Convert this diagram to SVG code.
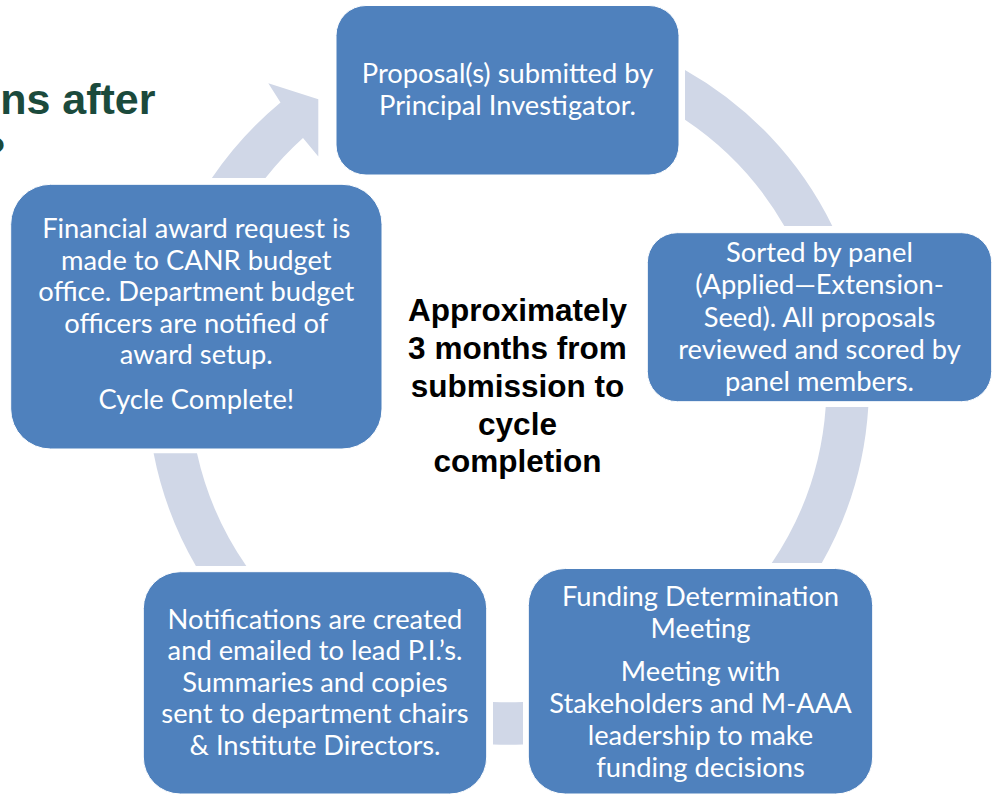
<svg xmlns="http://www.w3.org/2000/svg" width="993" height="795" viewBox="0 0 993 795">
<style>
.box{fill:#4F81BD;stroke:#ffffff;stroke-width:1}
.ring{fill:#D0D7E7}
.t{font-family:Lato,"Open Sans","Liberation Sans",sans-serif;font-size:27.3px;fill:#ffffff;text-anchor:middle}
.c{font-family:"Liberation Sans",Arial,sans-serif;font-weight:bold;font-size:31.5px;fill:#000000;text-anchor:middle}
.title{font-family:"Liberation Sans",Arial,sans-serif;font-weight:bold;font-size:43px;fill:#1B4A3C}
</style>
<rect width="993" height="795" fill="#ffffff"/>
<g id="title">
<text class="title" x="155.5" y="114" text-anchor="end">ns after</text>
<text class="title" x="6" y="166" text-anchor="end">?</text>
</g>
<g id="connectors">
<path class="ring" d="M685,69.9 A361,361 0 0 1 832.3,226 L784.3,226 A318.5,318.5 0 0 0 685,119.7 Z"/>
<path class="ring" d="M868.3,407 A361,361 0 0 1 821.8,563 L771.8,563 A318.5,318.5 0 0 0 825.7,407 Z"/>
<path class="ring" d="M493,744.5 A361,361 0 0 0 523,744.5 L523,702 A318.5,318.5 0 0 1 493,702 Z"/>
<path class="ring" d="M153.6,453.3 A361,361 0 0 0 195.9,566 L246.3,566 A318.5,318.5 0 0 1 197,453.3 Z"/>
<path class="ring" d="M211.9,178 A361,361 0 0 1 280.5,102.5 L268.3,83.3 L318.3,99.3 L318.3,156.5 L303,138 A318.5,318.5 0 0 0 265.5,178 Z"/>
</g>
<g id="center-label">
<text class="c" x="517.5" y="321">Approximately</text>
<text class="c" x="517.5" y="359">3 months from</text>
<text class="c" x="517.5" y="397">submission to</text>
<text class="c" x="517.5" y="435">cycle</text>
<text class="c" x="517.5" y="472">completion</text>
</g>
<g id="node-proposal">
<rect class="box" x="336" y="5.5" width="343" height="169.5" rx="30"/>
<text class="t" x="507.5" y="82.7">Proposal(s) submitted by</text>
<text class="t" x="507.5" y="115">Principal Investigator.</text>
</g>
<g id="node-sorted">
<rect class="box" x="647.3" y="232.7" width="344.4" height="169" rx="30"/>
<text class="t" x="819.5" y="262">Sorted by panel</text>
<text class="t" x="819.5" y="294.3">(Applied—Extension-</text>
<text class="t" x="819.5" y="326.5">Seed). All proposals</text>
<text class="t" x="819.5" y="358.8">reviewed and scored by</text>
<text class="t" x="819.5" y="391">panel members.</text>
</g>
<g id="node-funding">
<rect class="box" x="528.3" y="568.5" width="344.4" height="225.5" rx="37"/>
<text class="t" x="700.5" y="606">Funding Determination</text>
<text class="t" x="700.5" y="638">Meeting</text>
<text class="t" x="700.5" y="681">Meeting with</text>
<text class="t" x="700.5" y="713">Stakeholders and M-AAA</text>
<text class="t" x="700.5" y="745">leadership to make</text>
<text class="t" x="700.5" y="776.7">funding decisions</text>
</g>
<g id="node-notifications">
<rect class="box" x="143.3" y="571.7" width="343.4" height="222.3" rx="37"/>
<text class="t" x="315" y="628.6">Notifications are created</text>
<text class="t" x="315" y="660.2">and emailed to lead P.I.’s.</text>
<text class="t" x="315" y="691.8">Summaries and copies</text>
<text class="t" x="315" y="723.4">sent to department chairs</text>
<text class="t" x="315" y="755">&amp; Institute Directors.</text>
</g>
<g id="node-financial">
<rect class="box" x="10.7" y="184.3" width="371.3" height="264.7" rx="40"/>
<text class="t" x="196.3" y="238.3">Financial award request is</text>
<text class="t" x="196.3" y="269.8">made to CANR budget</text>
<text class="t" x="196.3" y="301.3">office. Department budget</text>
<text class="t" x="196.3" y="332.8">officers are notified of</text>
<text class="t" x="196.3" y="364.3">award setup.</text>
<text class="t" x="196.3" y="408.5">Cycle Complete!</text>
</g>
</svg>
